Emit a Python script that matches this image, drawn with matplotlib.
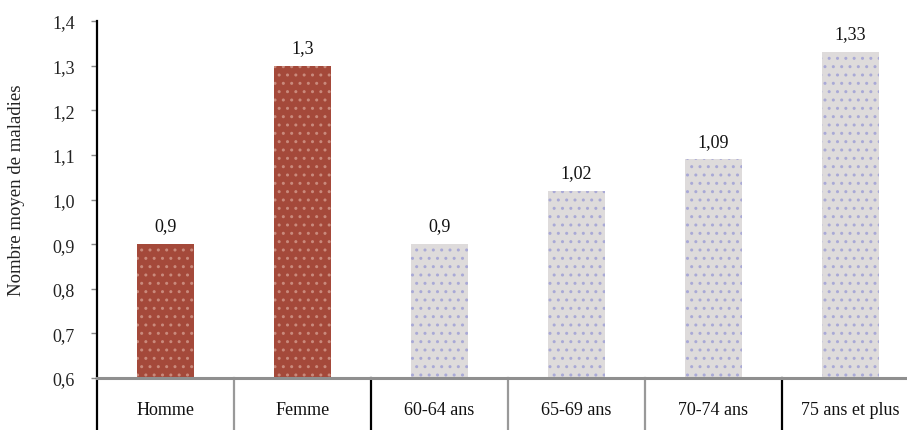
import matplotlib.pyplot as plt
import numpy as np

plt.rcParams['font.family'] = ['Liberation Serif', 'DejaVu Serif']

categories = ['Homme', 'Femme', '60-64 ans', '65-69 ans', '70-74 ans', '75 ans et plus']
values = [0.9, 1.3, 0.9, 1.02, 1.09, 1.33]
value_labels = ['0,9', '1,3', '0,9', '1,02', '1,09', '1,33']
yticks = [0.6, 0.7, 0.8, 0.9, 1.0, 1.1, 1.2, 1.3, 1.4]
ytick_labels = ['0,6', '0,7', '0,8', '0,9', '1,0', '1,1', '1,2', '1,3', '1,4']

brown = '#a4493a'
grey = '#dedbdb'
face = [brown, brown, grey, grey, grey, grey]
hatch_col = ['#c98a7c', '#c98a7c', '#a9a9d6', '#a9a9d6', '#a9a9d6', '#a9a9d6']

fig = plt.figure(figsize=(9.07, 4.31), dpi=100)
# axes slightly wider than figure so the last cell is cut like the original
ax = fig.add_axes([97 / 907, 52 / 431, 822 / 907, 357 / 431])

x = np.arange(len(categories))
bars = ax.bar(x, [v - 0.6 for v in values], bottom=0.6, width=0.42,
              color=face, edgecolor=hatch_col, linewidth=0, hatch='..')
for b, lab in zip(bars, value_labels):
    ax.annotate(lab, (b.get_x() + b.get_width() / 2, b.get_y() + b.get_height()),
                xytext=(0, 7), textcoords='offset points', ha='center', va='bottom',
                fontsize=13, color='#111111')

ax.set_xlim(-0.5, len(categories) - 0.5)
ax.set_ylim(0.6, 1.4)
ax.set_yticks(yticks)
ax.set_yticklabels(ytick_labels, fontsize=13, color='#222222')
ax.tick_params(axis='y', direction='out', length=4, width=1, color='#888888', pad=12)
ax.set_xticks([])
ax.set_ylabel('Nombre moyen de maladies', fontsize=13.5, color='#222222')
ax.yaxis.set_label_coords(-0.087, 0.53)

for s in ['top', 'right', 'bottom', 'left']:
    ax.spines[s].set_visible(False)

tr = ax.get_xaxis_transform()
# baseline at 0.6
ax.plot([-0.5, len(categories) - 0.5], [0, 0], transform=tr, color='#8f8f8f',
        lw=2.2, clip_on=False, zorder=3)
# left axis line going down to the bottom
ax.plot([-0.5, -0.5], [-0.15, 1.0], transform=tr, color='black', lw=1.6, clip_on=False)
# cell separators under the axis
sep_colors = ['#999999', 'black', '#999999', '#999999', 'black']
for i, c in enumerate(sep_colors):
    ax.plot([i + 0.5, i + 0.5], [-0.15, 0], transform=tr, color=c,
            lw=1.6, clip_on=False)
# category names
for i, name in enumerate(categories):
    ax.text(i, -0.087, name, transform=tr, ha='center', va='center',
            fontsize=13, color='#111111')

fig.savefig('out.png', dpi=100)
